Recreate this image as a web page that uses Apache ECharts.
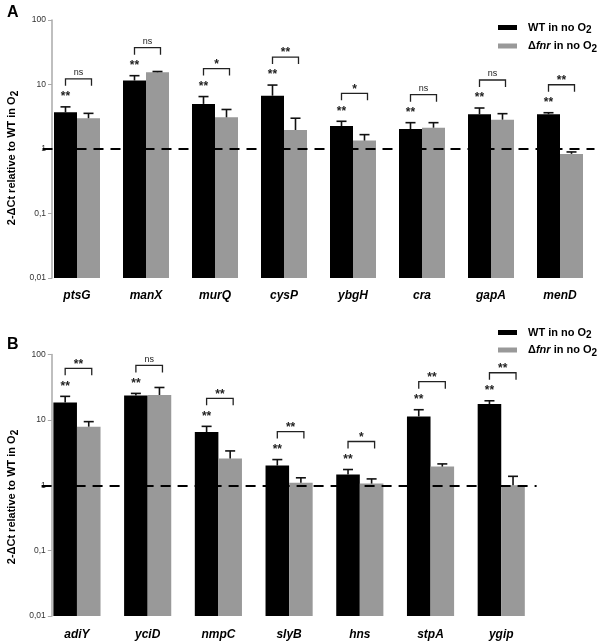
<!DOCTYPE html>
<html>
<head>
<meta charset="utf-8">
<script src="https://cdn.jsdelivr.net/npm/echarts@6/dist/echarts.min.js"></script>
<style>html,body{margin:0;padding:0;background:#fff}#c{width:600px;height:643px}</style>
</head>
<body>
<div id="c"></div>
<script>
// ---- Data ----
const seriesNames = ['WT in no O2', 'Δfnr in no O2'];
const yTicks = [0.01, 0.1, 1, 10, 100];

// Panel A
const catsA = ['ptsG', 'manX', 'murQ', 'cysP', 'ybgH', 'cra', 'gapA', 'menD'];
const wtA = [3.7, 11.5, 5.0, 6.7, 2.27, 2.04, 3.45, 3.45];
const wtErrTopA = [4.5, 13.7, 6.5, 9.8, 2.69, 2.56, 4.32, 3.65];
const fnrA = [3.0, 15.5, 3.1, 1.97, 1.35, 2.14, 2.85, 0.84];
const fnrErrTopA = [3.57, 15.9, 4.1, 3.0, 1.67, 2.56, 3.53, 0.9];
const wtSigA = ['**', '**', '**', '**', '**', '**', '**', '**'];
const pairSigA = ['ns', 'ns', '*', '**', '*', 'ns', 'ns', '**'];

// Panel B
const catsB = ['adiY', 'yciD', 'nmpC', 'slyB', 'hns', 'stpA', 'ygip'];
const wtB = [18.5, 23.7, 6.5, 2.0, 1.46, 11.3, 17.5];
const wtErrTopB = [22.9, 25.4, 7.96, 2.47, 1.74, 14.3, 19.6];
const fnrB = [7.87, 24.0, 2.56, 1.09, 1.06, 1.93, 1.0];
const fnrErrTopB = [9.4, 31.3, 3.35, 1.3, 1.25, 2.12, 1.37];
const wtSigB = ['**', '**', '**', '**', '**', '**', '**'];
const pairSigB = ['**', 'ns', '**', '**', '*', '**', '**'];

// ---- Chart ----
const FONT = 'Liberation Sans, Arial, sans-serif';
const chart = echarts.init(document.getElementById('c'), null, {renderer: 'canvas'});
const Y_MIN = yTicks[0];

// Bars drawn from the axis bottom (log axis) through the library's coordinate system
function barSeries(gi, name, vals, color, side, withLine) {
  const s = {
    type: 'custom', name: name, xAxisIndex: gi, yAxisIndex: gi, z: 2, silent: true,
    itemStyle: {color: color},
    data: vals.map((v, i) => [i, v]),
    encode: {x: 0, y: 1},
    renderItem: function (params, api) {
      const top = api.coord([api.value(0), api.value(1)]);
      const bot = api.coord([api.value(0), Y_MIN]);
      const bw = api.size([1, 0])[0];
      const w = bw / 3;
      const x = side === 0 ? top[0] - w : top[0];
      return {type: 'rect', shape: {x: x, y: top[1], width: w, height: bot[1] - top[1]},
        style: {fill: color}};
    }
  };
  if (withLine) {
    s.markLine = {silent: true, symbol: ['none', 'none'], label: {show: false}, z: 10,
      lineStyle: {color: '#000', width: 2, type: [10, 7]},
      data: [{yAxis: 1}]};
  }
  return s;
}

function errSeries(gi, vals, tops, side) {
  return {
    type: 'custom', xAxisIndex: gi, yAxisIndex: gi, z: 5, silent: true,
    data: vals.map((v, i) => [i, v, tops[i]]),
    encode: {x: 0, y: [1, 2]},
    renderItem: function (params, api) {
      const top = api.coord([api.value(0), api.value(2)]);
      const bot = api.coord([api.value(0), api.value(1)]);
      const bw = api.size([1, 0])[0];
      const x = top[0] + (side === 0 ? -bw / 6 : bw / 6);
      const st = {stroke: '#111', lineWidth: 1.6};
      return {type: 'group', children: [
        {type: 'line', shape: {x1: x, y1: bot[1], x2: x, y2: top[1]}, style: st},
        {type: 'line', shape: {x1: x - 5, y1: top[1], x2: x + 5, y2: top[1]}, style: st}
      ]};
    }
  };
}

function sigSeries(gi, tops, stars, pairs) {
  return {
    type: 'custom', xAxisIndex: gi, yAxisIndex: gi, z: 6, silent: true,
    data: tops.map((t, i) => [i, t]),
    encode: {x: 0, y: 1},
    renderItem: function (params, api) {
      const i = params.dataIndex;
      const p = api.coord([api.value(0), api.value(1)]);
      const bw = api.size([1, 0])[0];
      const xb = p[0] - bw / 6;
      const xg = p[0] + bw / 6 + 3;
      const sy = p[1] - 12;
      const by = sy - 16;
      return {type: 'group', children: [
        {type: 'text', style: {x: xb, y: sy + 2, text: stars[i], align: 'center', verticalAlign: 'middle',
          font: 'bold 12px ' + FONT, fill: '#222'}},
        {type: 'polyline', shape: {points: [[xb, by + 7], [xb, by], [xg, by], [xg, by + 7]]},
          style: {stroke: '#222', lineWidth: 1.3, fill: null}},
        {type: 'text', style: {x: (xb + xg) / 2, y: by - (pairs[i] === 'ns' ? 6 : 4), text: pairs[i], align: 'center', verticalAlign: 'middle',
          font: (pairs[i] === 'ns' ? 'normal 9px ' : 'bold 12px ') + FONT, fill: '#222'}}
      ]};
    }
  };
}

function yAxisCfg(gi, off) {
  return {
    gridIndex: gi, type: 'log', logBase: 10, min: yTicks[0], max: yTicks[yTicks.length - 1],
    offset: off,
    axisLine: {show: true, lineStyle: {color: '#aaa', width: 1.5}},
    axisTick: {show: true, length: 4, lineStyle: {color: '#aaa'}},
    splitLine: {show: false},
    axisLabel: {fontSize: 8.5, color: '#333', fontFamily: FONT, margin: 6,
      formatter: v => String(v).replace('.', ',')}
  };
}

function xAxisCfg(gi, cats, margin) {
  return {
    gridIndex: gi, type: 'category', data: cats,
    axisLine: {show: false}, axisTick: {show: false},
    axisLabel: {fontSize: 12, fontWeight: 'bold', fontStyle: 'italic', color: '#000', fontFamily: FONT, margin: margin}
  };
}

const legendText = {
  fontSize: 11, fontWeight: 'bold', color: '#000', fontFamily: FONT, padding: [0, 0, 0, 6],
  rich: {
    s: {fontSize: 10, fontWeight: 'bold', fontFamily: FONT, color: '#000', padding: [6, 0, 0, 0]},
    i: {fontSize: 11, fontWeight: 'bold', fontStyle: 'italic', fontFamily: FONT, color: '#000'},
    d: {fontSize: 11, fontFamily: FONT, color: '#000'}
  }
};
function legendFmt(name) {
  return name === seriesNames[0] ? 'WT in no O{s|2}' : '{d|Δ}{i|fnr} in no O{s|2}';
}
function legendCfg(top, gap) {
  return {
    data: seriesNames.map((n, k) => ({name: n, itemStyle: {color: k === 0 ? '#000' : '#999'}})),
    orient: 'vertical', left: 493, top: top, itemGap: gap,
    icon: 'rect', itemWidth: 19, itemHeight: 5, selectedMode: false,
    textStyle: legendText, formatter: legendFmt
  };
}

const yNameStyle = {text: '2-ΔCt relative to WT in O{s|2}', align: 'center', verticalAlign: 'middle',
  font: 'bold 11px ' + FONT, fill: '#000',
  rich: {s: {fontSize: 10, fontWeight: 'bold', fontFamily: FONT, fill: '#000', padding: [6, 0, 0, 0]}}};

const option = {
  animation: false,
  backgroundColor: '#fff',
  title: [
    {text: 'A', left: 2, top: 0, textStyle: {fontSize: 16, fontWeight: 'bold', color: '#000', fontFamily: FONT}},
    {text: 'B', left: 2, top: 332, textStyle: {fontSize: 16, fontWeight: 'bold', color: '#000', fontFamily: FONT}}
  ],
  legend: [legendCfg(17, 5), legendCfg(322, 4)],
  grid: [
    {left: 42.5, width: 552, top: 20, height: 258},
    {left: 41.6, width: 495, top: 354.5, height: 261.5}
  ],
  xAxis: [xAxisCfg(0, catsA, 12), xAxisCfg(1, catsB, 13)],
  yAxis: [yAxisCfg(0, -9.5), yAxisCfg(1, -10.2)],
  graphic: [
    {type: 'text', x: 12, y: 158, rotation: Math.PI / 2, style: yNameStyle},
    {type: 'text', x: 12, y: 497, rotation: Math.PI / 2, style: yNameStyle}
  ],
  series: [
    barSeries(0, seriesNames[0], wtA, '#000', 0, false),
    barSeries(0, seriesNames[1], fnrA, '#999', 1, true),
    errSeries(0, wtA, wtErrTopA, 0),
    errSeries(0, fnrA, fnrErrTopA, 1),
    sigSeries(0, wtErrTopA, wtSigA, pairSigA),
    barSeries(1, seriesNames[0], wtB, '#000', 0, false),
    barSeries(1, seriesNames[1], fnrB, '#999', 1, true),
    errSeries(1, wtB, wtErrTopB, 0),
    errSeries(1, fnrB, fnrErrTopB, 1),
    sigSeries(1, wtErrTopB, wtSigB, pairSigB)
  ]
};
chart.setOption(option);
</script>
</body>
</html>
